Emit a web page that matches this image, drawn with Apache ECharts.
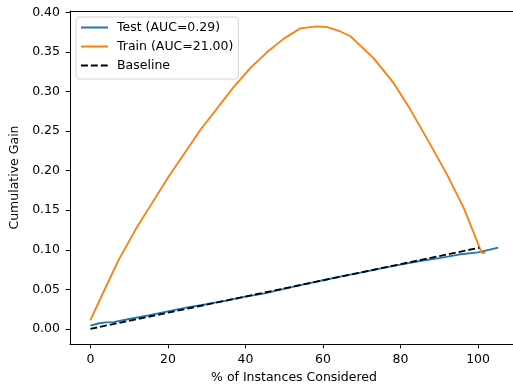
<!DOCTYPE html>
<html>
<head>
<meta charset="utf-8">
<script src="https://cdn.jsdelivr.net/npm/echarts@6/dist/echarts.min.js"></script>
<style>html,body{margin:0;padding:0;background:#fff;overflow:hidden}#c{width:513px;height:386px}</style>
</head>
<body>
<div id="c"></div>
<script>
const xTicks = [0, 20, 40, 60, 80, 100];
const yTicks = [0.00, 0.05, 0.10, 0.15, 0.20, 0.25, 0.30, 0.35, 0.40];

const testX = [0, 2, 4, 6, 10, 15, 20, 25, 30, 35, 40, 45, 50, 55, 60, 65, 70, 75, 80, 85, 90, 95, 100, 105.2];
const testY = [0.0042, 0.0068, 0.0082, 0.0085, 0.0125, 0.0172, 0.0222, 0.0272, 0.0312, 0.0358, 0.0408, 0.0448, 0.0505, 0.0562, 0.0615, 0.0668, 0.0715, 0.0765, 0.0812, 0.0858, 0.0895, 0.0940, 0.0968, 0.1028];

const trainX = [0, 3.9, 7.3, 11.6, 15.9, 20.2, 24.9, 28.4, 32.7, 37.0, 41.3, 45.6, 49.9, 54.2, 58.3, 61.1, 64.5, 67.1, 73.1, 78.2, 82.1, 87.7, 92.0, 96.3, 100.9, 101.9];
const trainY = [0.0110, 0.0520, 0.0873, 0.1252, 0.1590, 0.1926, 0.2264, 0.2517, 0.2790, 0.3060, 0.3300, 0.3500, 0.3670, 0.3800, 0.3825, 0.3815, 0.3760, 0.3700, 0.3420, 0.3110, 0.2810, 0.2330, 0.1950, 0.1530, 0.0965, 0.0957];

const baseX = [0, 100.3];
const baseY = [0, 0.1026];

const names = ['Test (AUC=0.29)', 'Train (AUC=21.00)', 'Baseline'];

const pair = (xs, ys) => xs.map((x, i) => [x, ys[i]]);
const font = 'DejaVu Sans';
const fs = 12.5;
const xMin = -5.25, xMax = 110.3;

const chart = echarts.init(document.getElementById('c'), null, {renderer: 'canvas'});
chart.setOption({
  animation: false,
  backgroundColor: '#fff',
  grid: {left: 70, top: 11, width: 448, height: 333, outerBoundsMode: 'none', containLabel: false, show: false},
  xAxis: [{
    type: 'value', min: xMin, max: xMax,
    name: '% of Instances Considered', nameLocation: 'middle', nameGap: 25,
    nameTextStyle: {fontFamily: font, fontSize: fs, color: '#000'},
    splitLine: {show: false},
    axisLine: {show: true, onZero: false, lineStyle: {color: '#000', width: 1}},
    axisTick: {show: true, length: 4.4, lineStyle: {color: '#000'}, customValues: xTicks},
    axisLabel: {margin: 9, fontFamily: font, fontSize: fs, color: '#000', customValues: xTicks, formatter: v => String(v)}
  }, {
    type: 'value', position: 'top', min: xMin, max: xMax,
    splitLine: {show: false},
    axisLine: {show: true, onZero: false, lineStyle: {color: '#000', width: 1}},
    axisTick: {show: false}, axisLabel: {show: false}
  }],
  yAxis: {
    type: 'value', min: -0.0191, max: 0.4019,
    name: 'Cumulative Gain', nameLocation: 'middle', nameGap: 39,
    nameTextStyle: {fontFamily: font, fontSize: fs, color: '#000'},
    splitLine: {show: false},
    axisLine: {show: true, onZero: false, lineStyle: {color: '#000', width: 1}},
    axisTick: {show: true, length: 4.4, lineStyle: {color: '#000'}, customValues: yTicks},
    axisLabel: {margin: 10, fontFamily: font, fontSize: fs, color: '#000', customValues: yTicks, formatter: v => v.toFixed(2)}
  },
  legend: {
    orient: 'vertical', left: 76, top: 17,
    data: names,
    itemWidth: 27, itemHeight: 12.5, itemGap: 6,
    padding: [4, 5, 7, 4],
    itemStyle: {opacity: 0},
    backgroundColor: 'rgba(255,255,255,0.8)', borderColor: '#d6d6d6', borderWidth: 1, borderRadius: 3,
    textStyle: {fontFamily: font, fontSize: fs, color: '#000', padding: [0, 0, 0, 4]}
  },
  series: [
    {name: names[0], type: 'line', data: pair(testX, testY), showSymbol: false, symbol: 'none',
     lineStyle: {color: '#1f77b4', width: 1.85}, itemStyle: {color: '#1f77b4'}, z: 3},
    {name: names[1], type: 'line', data: pair(trainX, trainY), showSymbol: false, symbol: 'none',
     lineStyle: {color: '#ff7f0e', width: 1.85}, itemStyle: {color: '#ff7f0e'}, z: 4},
    {name: names[2], type: 'line', data: pair(baseX, baseY), showSymbol: false, symbol: 'none',
     lineStyle: {color: '#000', width: 1.85, type: [6.9, 3]}, itemStyle: {color: '#000'}, z: 5}
  ]
});
</script>
</body>
</html>
